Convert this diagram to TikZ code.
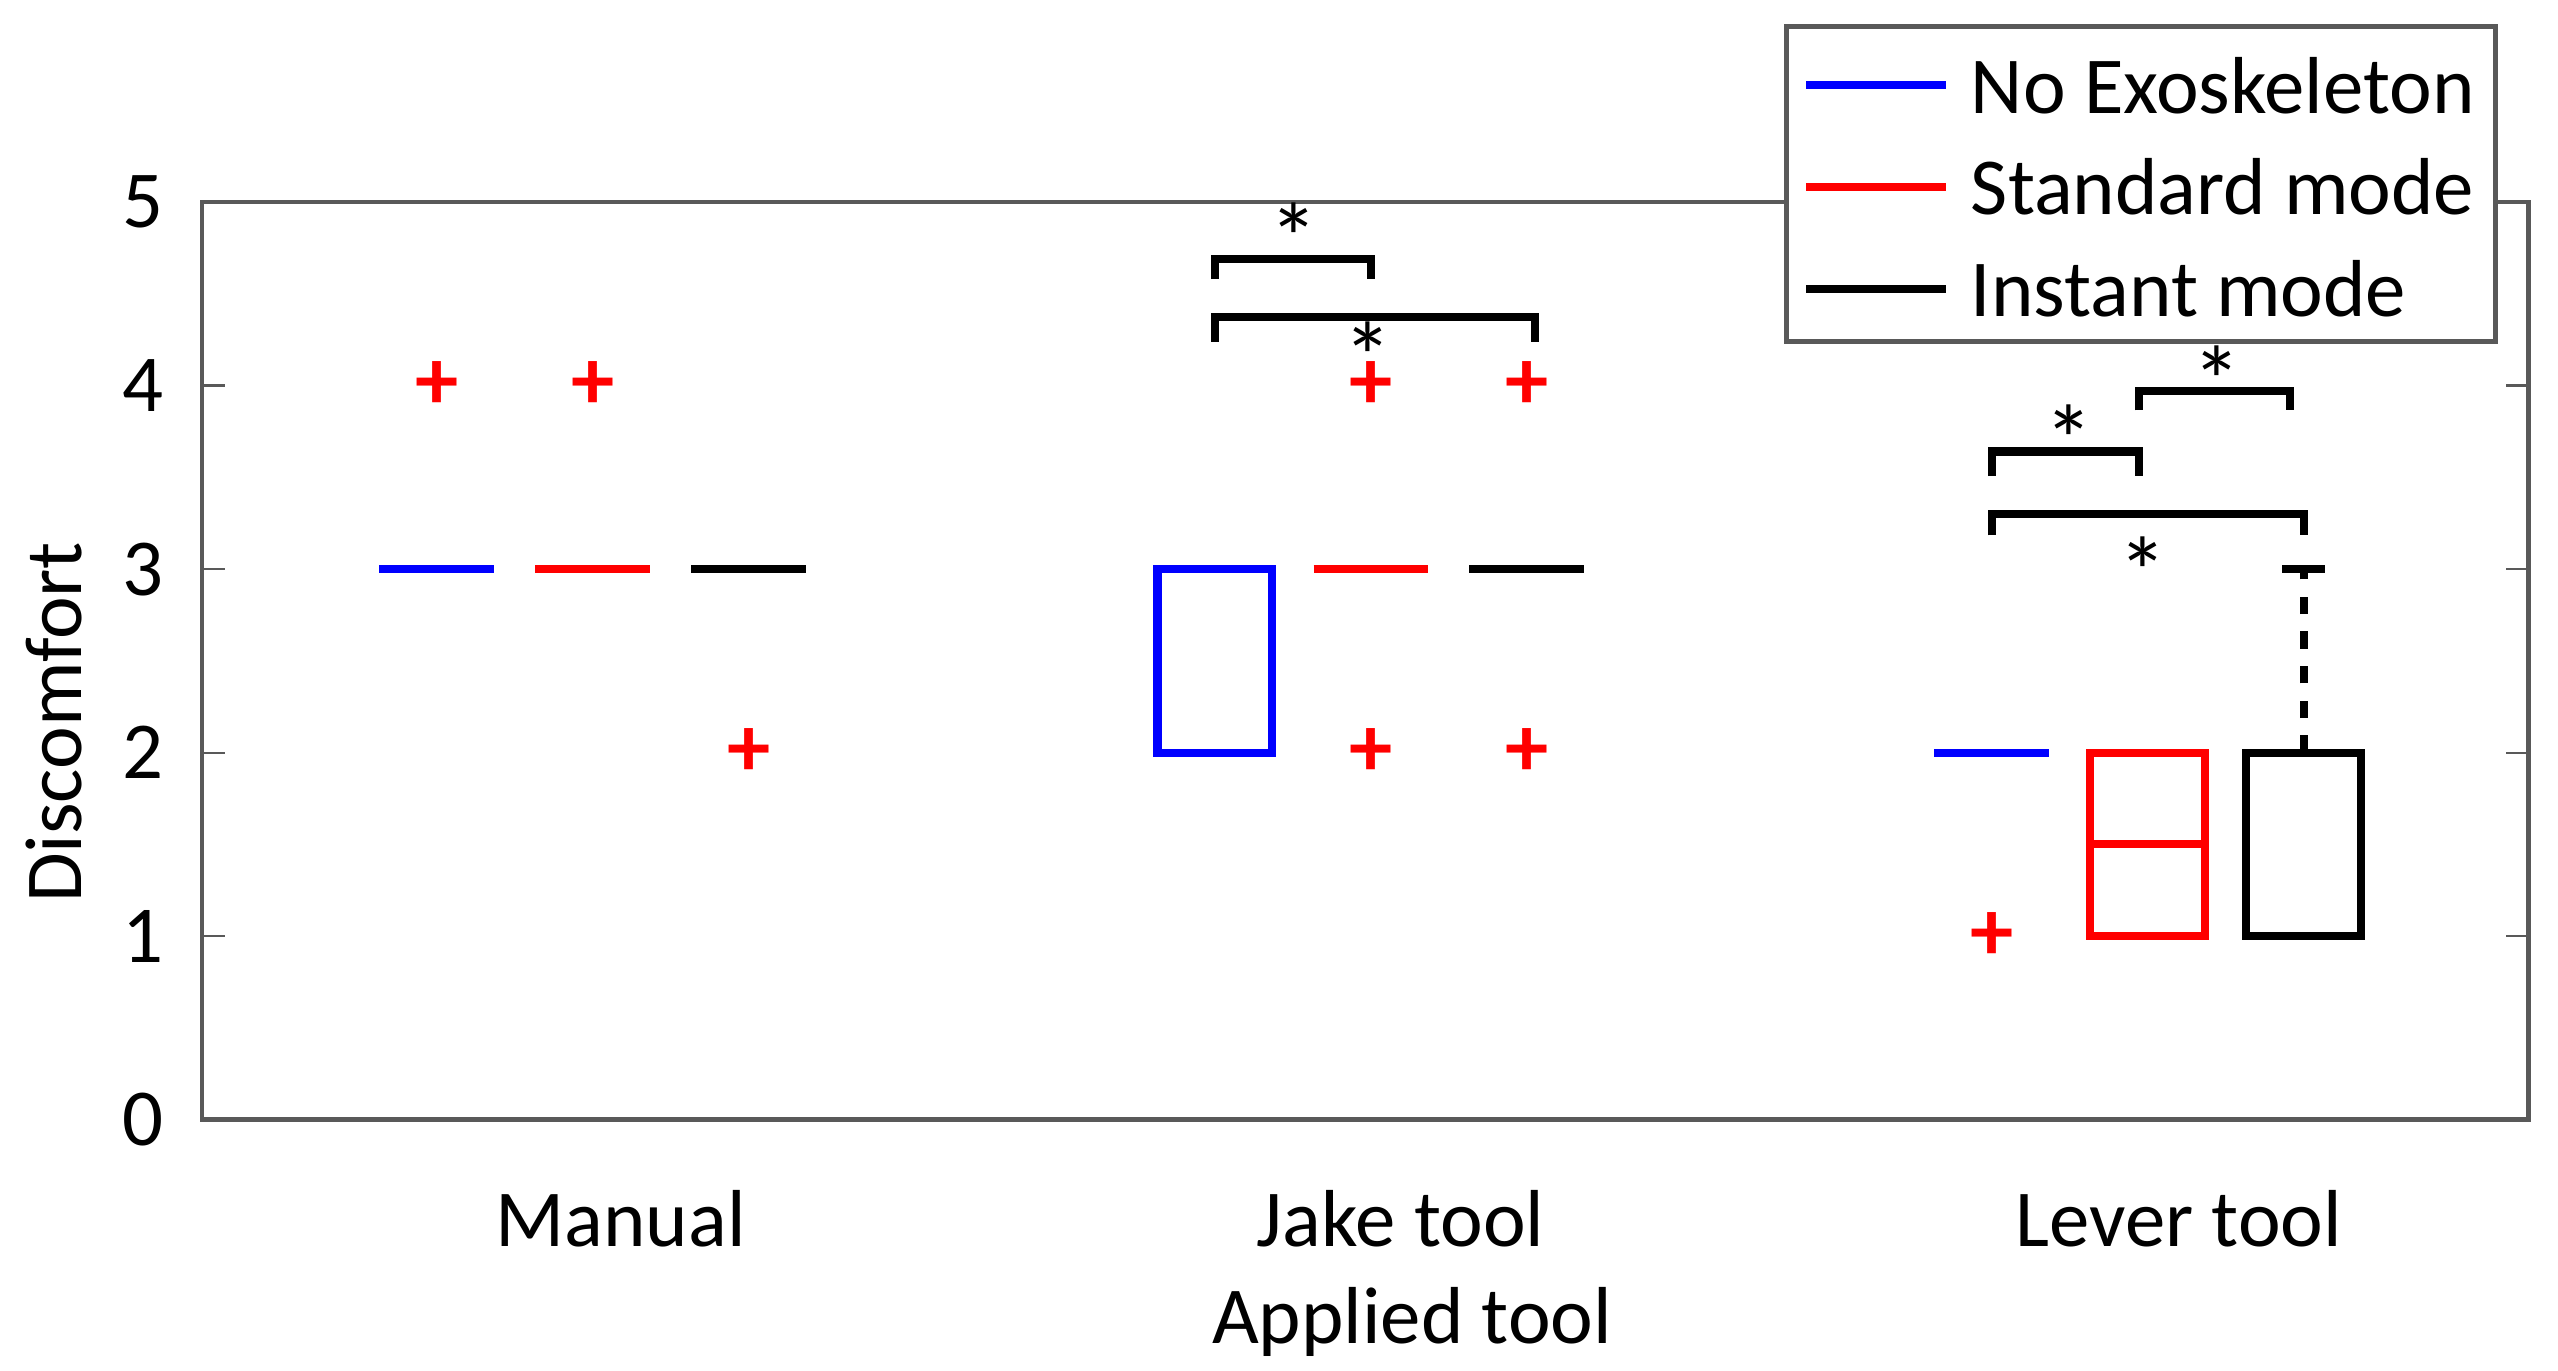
\documentclass[tikz,border=0pt]{standalone}
\usepackage{fontspec}
\setmainfont{Carlito}
\usepackage{xcolor}
\definecolor{plotblue}{RGB}{0,0,255}
\definecolor{plotred}{RGB}{255,0,0}
\tikzset{
  med/.style={line width=1.4pt},
  outl/.style={plotred, font=\fontsize{15}{15}\selectfont\bfseries},
  sig/.style={line width=1.4pt},
  star/.style={font=\fontsize{17}{17}\selectfont},
  lbl/.style={font=\fontsize{14}{14}\selectfont}
}
\newcommand{\yv}[1]{682-111.8*#1}
\begin{document}
\begin{tikzpicture}[x=0.01cm, y=-0.01cm]
  \useasboundingbox (0,0) rectangle (1558,835);

  % Axes
  \draw[gray!70!black, line width=0.8pt] (123,123) rectangle (1540,682);
  \foreach \v in {0,...,5} {
    \draw[gray!70!black] (123,{\yv{\v}}) -- (137,{\yv{\v}});
    \draw[gray!70!black] (1540,{\yv{\v}}) -- (1526,{\yv{\v}});
    \node[lbl, anchor=east] (ytick\v) at (112,{\yv{\v}}) {\v};
  }
  \node[lbl, rotate=90] (ylabel) at (33,440) {Discomfort};
  \node[lbl] (xmanual) at (378,742) {Manual};
  \node[lbl] (xjake) at (853,742) {Jake tool};
  \node[lbl] (xlever) at (1327,742) {Lever tool};
  \node[lbl] (xlabel) at (860,805) {Applied tool};

  % Manual
  \draw[med, plotblue] (231,{\yv{3}}) -- (301,{\yv{3}});
  \draw[med, plotred] (326,{\yv{3}}) -- (396,{\yv{3}});
  \draw[med, black] (421,{\yv{3}}) -- (491,{\yv{3}});
  \node[outl] (o1) at (266,{\yv{4}}) {+};
  \node[outl] (o2) at (361,{\yv{4}}) {+};
  \node[outl] (o3) at (456,{\yv{2}}) {+};

  % Jake tool
  \draw[med, plotblue] (705,{\yv{2}}) rectangle (775,{\yv{3}});
  \draw[med, plotred] (800,{\yv{3}}) -- (870,{\yv{3}});
  \draw[med, black] (895,{\yv{3}}) -- (965,{\yv{3}});
  \node[outl] (o4) at (835,{\yv{4}}) {+};
  \node[outl] (o5) at (835,{\yv{2}}) {+};
  \node[outl] (o6) at (930,{\yv{4}}) {+};
  \node[outl] (o7) at (930,{\yv{2}}) {+};

  % Lever tool
  \draw[med, plotblue] (1178,{\yv{2}}) -- (1248,{\yv{2}});
  \node[outl] (o8) at (1213,{\yv{1}}) {+};
  \draw[med, plotred] (1273,{\yv{1}}) rectangle (1343,{\yv{2}});
  \draw[med, plotred] (1273,{\yv{1.5}}) -- (1343,{\yv{1.5}});
  \draw[med, black] (1368,{\yv{1}}) rectangle (1438,{\yv{2}});
  \draw[med, black, dashed] (1403,{\yv{2}}) -- (1403,{\yv{3}});
  \draw[med, black] (1390,{\yv{3}}) -- (1416,{\yv{3}});

  % Significance
  \draw[sig] (740,170) -- (740,158) -- (835,158) -- (835,170);
  \node[star] (s1) at (788,145) {*};
  \draw[sig] (740,208) -- (740,193) -- (935,193) -- (935,208);
  \node[star] (s2) at (833,217) {*};
  \draw[sig] (1213,290) -- (1213,275) -- (1303,275) -- (1303,290);
  \node[star] (s3) at (1260,268) {*};
  \draw[sig] (1303,250) -- (1303,238) -- (1395,238) -- (1395,250);
  \node[star] (s4) at (1350,232) {*};
  \draw[sig] (1213,326) -- (1213,313) -- (1403,313) -- (1403,326);
  \node[star] (s5) at (1305,348) {*};

  % Legend
  \draw[draw=gray!70!black, fill=white, line width=0.8pt] (1088,16) rectangle (1520,208);
  \draw[med, plotblue] (1100,52) -- (1185,52);
  \draw[med, plotred] (1100,114) -- (1185,114);
  \draw[med, black] (1100,176) -- (1185,176);
  \node[lbl, anchor=west] (leg1) at (1188,52) {No Exoskeleton};
  \node[lbl, anchor=west] (leg2) at (1188,114) {Standard mode};
  \node[lbl, anchor=west] (leg3) at (1188,176) {Instant mode};
\end{tikzpicture}
\end{document}
